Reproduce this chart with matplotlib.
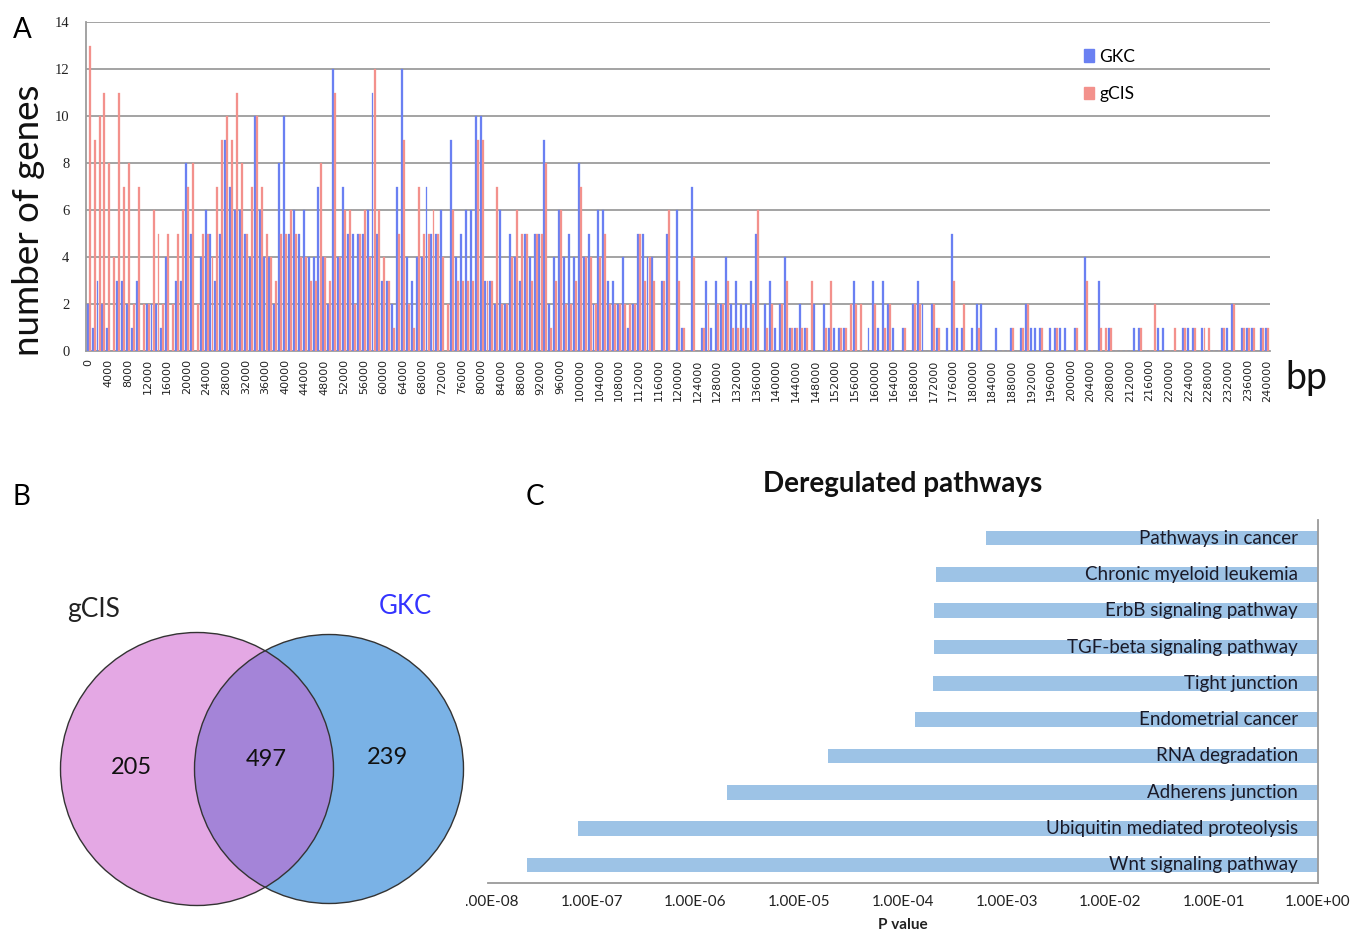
import numpy as np
import matplotlib
matplotlib.use("Agg")
import matplotlib.pyplot as plt
from matplotlib.patches import Circle, Patch
from matplotlib.transforms import Bbox, blended_transform_factory

plt.rcParams['font.family'] = ['Lato', 'DejaVu Sans']

# ---------------- Panel A data ----------------
bin_start = list(range(0, 241000, 1000))  # bp bins
gkc = [2,1,3,2,1,0,3,3,2,1,
       3,0,2,2,2,1,4,0,3,3,
       8,5,0,4,6,5,3,5,9,7,
       6,6,5,4,10,6,4,4,2,8,
       10,5,6,5,6,4,4,7,4,2,
       12,4,7,5,5,5,5,6,11,5,
       3,3,2,7,12,4,3,4,4,7,
       5,5,6,0,9,4,5,6,6,10,
       10,3,3,2,6,2,5,4,3,5,
       4,5,5,9,2,4,6,4,5,4,
       8,4,5,2,6,6,3,3,2,4,
       1,2,5,5,4,4,0,3,5,0,
       6,1,0,7,0,1,3,1,3,2,
       4,2,3,2,2,3,5,0,2,3,
       1,2,4,1,1,2,1,0,2,0,
       2,1,1,1,1,0,3,0,0,1,
       3,1,3,2,1,0,1,0,2,3,
       2,0,2,1,0,1,5,1,1,0,
       1,2,2,0,0,1,0,0,1,0,
       1,2,1,1,1,0,1,1,1,1,
       0,1,0,4,0,0,3,0,1,0,
       0,0,0,1,1,0,0,0,1,1,
       0,0,0,1,1,1,0,1,0,0,
       0,1,1,2,0,1,1,1,0,1,1]
gcis = [13,9,10,11,8,4,11,7,8,2,
        7,2,2,6,5,2,5,2,5,6,
        7,8,2,5,5,4,7,9,10,9,
        11,8,5,7,10,7,5,4,3,5,
        5,6,5,4,4,3,3,8,4,3,
        11,4,6,6,2,5,6,4,12,6,
        4,3,1,5,9,2,1,7,5,5,
        6,5,4,2,6,3,3,3,3,9,
        9,3,3,7,2,2,4,6,5,5,
        3,5,5,8,1,3,6,2,2,3,
        7,4,4,2,4,5,2,2,2,2,
        2,2,5,3,4,3,0,3,6,0,
        3,1,0,4,0,1,2,0,2,2,
        3,1,1,1,1,2,6,0,1,2,
        0,2,3,1,1,1,1,3,0,0,
        1,3,0,1,1,2,2,2,0,0,
        2,0,1,2,0,0,1,0,2,2,
        0,0,2,1,0,0,3,0,2,0,
        0,1,0,0,0,0,0,0,1,0,
        1,2,0,0,1,0,0,1,0,0,
        0,1,0,3,0,0,1,1,1,0,
        0,0,0,0,1,0,0,2,0,0,
        0,1,0,1,0,1,0,1,1,0,
        0,1,0,2,0,1,1,1,0,1,1]
series_names = ["GKC", "gCIS"]

# ---------------- Panel B data ----------------
venn_names = ["gCIS", "GKC"]
venn_counts = [205, 497, 239]  # gCIS only, both, GKC only

# ---------------- Panel C data ----------------
pathways = ["Wnt signaling pathway", "Ubiquitin mediated proteolysis",
            "Adherens junction", "RNA degradation", "Endometrial cancer",
            "Tight junction", "TGF-beta signaling pathway",
            "ErbB signaling pathway", "Chronic myeloid leukemia",
            "Pathways in cancer"]
pvalues = [2.4e-8, 7.4e-8, 2.0e-6, 1.9e-5, 1.3e-4, 1.95e-4, 2.0e-4,
           2.0e-4, 2.1e-4, 6.3e-4]
decades = [1e-8, 1e-7, 1e-6, 1e-5, 1e-4, 1e-3, 1e-2, 1e-1, 1e0]
decade_labels = ["1.00E-08", "1.00E-07", "1.00E-06", "1.00E-05", "1.00E-04",
                 "1.00E-03", "1.00E-02", "1.00E-01", "1.00E+00"]

W, H = 1351, 931
fig = plt.figure(figsize=(W / 100, H / 100), dpi=100)
fig.patch.set_facecolor('white')


def fx(px):
    return px / W


def fy(py):
    return 1 - py / H


# overlay axes in pixel coordinates (for venn & panel letters)
ov = fig.add_axes([0, 0, 1, 1])
ov.set_xlim(0, W)
ov.set_ylim(H, 0)
ov.axis('off')

# ================= Panel A =================
axA = fig.add_axes([fx(86), fy(351), fx(1270 - 86), (351 - 22) / H])
x = np.arange(len(bin_start))
blue_c = '#6a80f2'
red_c = '#f3918c'
bw = 0.40
axA.bar(x - 0.21, gkc, width=bw, color=blue_c, edgecolor=blue_c,
        linewidth=0.2, zorder=3)
axA.bar(x + 0.21, gcis, width=bw, color=red_c, edgecolor=red_c,
        linewidth=0.2, zorder=3)
axA.set_xlim(-0.55, len(bin_start) - 0.45)
axA.set_ylim(0, 14)
axA.set_yticks(range(0, 15, 2))
axA.yaxis.grid(True, color='#9c9c9c', linewidth=1.3, zorder=0)
axA.set_axisbelow(True)
for s in ['top', 'right']:
    axA.spines[s].set_visible(False)
axA.spines['left'].set_color('#9c9c9c')
axA.spines['bottom'].set_color('#9c9c9c')
axA.spines['left'].set_linewidth(1.3)
axA.spines['bottom'].set_linewidth(1.3)
axA.set_xticks(x[::4])
axA.set_xticklabels([str(v) for v in bin_start[::4]], rotation=90,
                    fontsize=8, family='DejaVu Sans', color='#222222')
axA.tick_params(axis='x', length=0, pad=6)
axA.tick_params(axis='y', length=0, pad=12)
for t in axA.get_yticklabels():
    t.set_fontfamily('Liberation Serif')
    t.set_fontsize(10.5)
    t.set_color('#222222')
leg = axA.legend(handles=[Patch(color=blue_c, label=series_names[0]),
                          Patch(color=red_c, label=series_names[1])],
                 loc='upper left', bbox_to_anchor=(fx(1068), fy(33)),
                 bbox_transform=fig.transFigure, frameon=False,
                 handlelength=0.6, handleheight=0.7, handletextpad=0.3,
                 labelspacing=1.25, fontsize=12.5)
fig.text(fx(29), fy(220), "number of genes", rotation=90, ha='center',
         va='center', fontsize=26.5, color='#111111')
fig.text(fx(1306), fy(378), "bp", ha='center', va='center', fontsize=27,
         color='#111111')
fig.text(fx(22), fy(30), "A", ha='center', va='center', fontsize=20)

# ================= Panel B =================
fig.text(fx(21), fy(497), "B", ha='center', va='center', fontsize=20)
pink = '#e4a8e4'
bluev = '#7ab2e6'
purple = '#a484d8'
c1 = Circle((197, 769), 136.5, fc=pink, ec='none', zorder=1)
c2 = Circle((329, 769), 134.5, fc=bluev, ec='none', zorder=1)
c3 = Circle((329, 769), 134.5, fc=purple, ec='none', zorder=2)
ov.add_patch(c1)
ov.add_patch(c2)
ov.add_patch(c3)
c3.set_clip_path(c1)
ov.add_patch(Circle((197, 769), 136.5, fill=False, ec='#333333', lw=1.0, zorder=3))
ov.add_patch(Circle((329, 769), 134.5, fill=False, ec='#333333', lw=1.0, zorder=3))
ov.text(131, 768, str(venn_counts[0]), ha='center', va='center', fontsize=17,
        color='#111111', zorder=4)
ov.text(266, 760, str(venn_counts[1]), ha='center', va='center', fontsize=17,
        color='#111111', zorder=4)
ov.text(388, 758, str(venn_counts[2]), ha='center', va='center', fontsize=17,
        color='#111111', zorder=4)
ov.text(94, 609, venn_names[0], ha='center', va='center', fontsize=19,
        color='#222222')
ov.text(405, 607, venn_names[1], ha='center', va='center', fontsize=18.5,
        color='#3333ff')

# ================= Panel C =================
fig.text(fx(535), fy(497), "C", ha='center', va='center', fontsize=20)
axC = fig.add_axes([fx(488), fy(883), fx(1318 - 488), (883 - 520) / H])
axC.set_xscale('log')
axC.set_xlim(1e-8, 1e0)
axC.set_ylim(-0.5, len(pathways) - 0.5)
yy = np.arange(len(pathways))
lefts = np.array(pvalues)
axC.barh(yy, 1.0 - lefts, left=lefts, height=0.4, color='#9dc3e6',
         linewidth=0)
for s in ['top', 'left']:
    axC.spines[s].set_visible(False)
axC.spines['bottom'].set_color('#9a9a9a')
axC.spines['right'].set_color('#9a9a9a')
axC.spines['bottom'].set_linewidth(1.3)
axC.spines['right'].set_linewidth(1.3)
axC.set_xticks([])
axC.set_xticks([], minor=True)
axC.set_yticks([])
btr = blended_transform_factory(axC.transAxes, axC.transData)
for i, name in enumerate(pathways):
    axC.text((1298 - 488) / (1318 - 488), yy[i], name, transform=btr,
             ha='right', va='center', fontsize=13.5, color='#1a1a28')
tr = blended_transform_factory(axC.transData, fig.transFigure)
clipbox = Bbox.from_extents(466, 0, W, H)
for v, lab in zip(decades, decade_labels):
    t = axC.text(v, fy(902), lab, transform=tr, ha='center', va='center',
                 fontsize=11, color='#222222', clip_on=False)
    if v == decades[0]:
        t.set_clip_box(clipbox)
        t.set_clip_on(True)
fig.text(fx(903), fy(925), "P value", ha='center', va='center', fontsize=11,
         fontweight='bold', color='#222222')
fig.text(fx(903), fy(484), "Deregulated pathways", ha='center', va='center',
         fontsize=20, fontweight='bold', color='#111111')

fig.savefig("out.png", dpi=100, facecolor='white')
